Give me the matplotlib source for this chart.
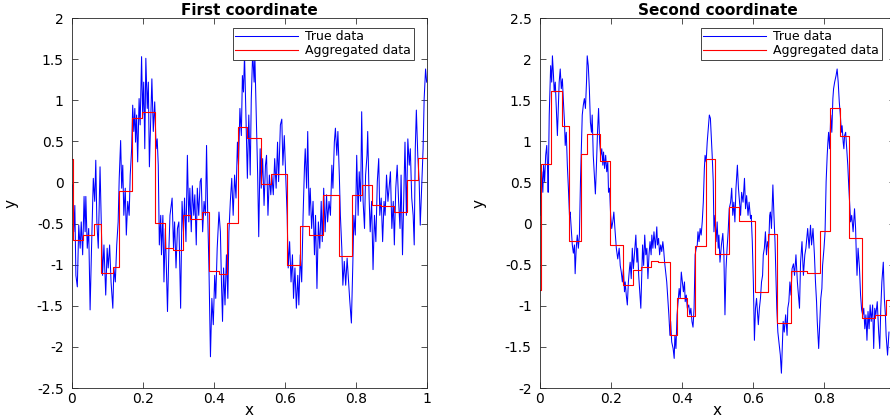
import matplotlib
matplotlib.use("Agg")
import matplotlib.pyplot as plt
from matplotlib.ticker import FuncFormatter

# start of each aggregation interval (shared by both coordinates)
agg_x = [0, 0.003, 0.032, 0.061, 0.083, 0.115, 0.133, 0.170, 0.196, 0.234,
         0.261, 0.285, 0.312, 0.332, 0.365, 0.385, 0.414, 0.438, 0.467, 0.493,
         0.532, 0.560, 0.606, 0.641, 0.668, 0.706, 0.753, 0.789, 0.818, 0.845,
         0.871, 0.908, 0.943, 0.975]

agg_first = [0.29, -0.70, -0.64, -0.51, -1.10, -1.03, -0.11, 0.78, 0.86, -0.49,
             -0.80, -0.82, -0.40, -0.44, -0.36, -1.08, -1.11, -0.49, 0.68, 0.54,
             -0.02, 0.10, -1.00, -0.53, -0.64, -0.15, -0.90, -0.15, -0.03, -0.27,
             -0.29, -0.36, 0.03, 0.30]

agg_second = [-0.81, 0.72, 1.61, 1.19, -0.21, 0.84, 1.09, 0.76, -0.26, -0.75,
              -0.56, -0.53, -0.45, -0.47, -1.35, -0.91, -1.12, -0.27, 0.78, -0.37,
              0.20, 0.03, -0.83, -0.13, -1.21, -0.58, -0.60, -0.09, 1.40, 1.07,
              -0.17, -1.15, -1.11, -0.93]

# true data, first coordinate
x1 = [0.002, 0.005, 0.008, 0.011, 0.015, 0.019, 0.023, 0.026, 0.030, 0.034,
      0.037, 0.039, 0.043, 0.047, 0.051, 0.055, 0.060, 0.064, 0.067, 0.070,
      0.074, 0.079, 0.083, 0.086, 0.090, 0.095, 0.099, 0.102, 0.106, 0.110,
      0.115, 0.118, 0.122, 0.126, 0.130, 0.133, 0.137, 0.140, 0.143, 0.146,
      0.150, 0.153, 0.157, 0.161, 0.164, 0.168, 0.171, 0.174, 0.177, 0.179,
      0.182, 0.185, 0.189, 0.192, 0.196, 0.199, 0.202, 0.205, 0.208, 0.212,
      0.215, 0.218, 0.222, 0.225, 0.229, 0.233, 0.237, 0.240, 0.243, 0.246,
      0.250, 0.252, 0.256, 0.259, 0.263, 0.269, 0.273, 0.276, 0.282, 0.286,
      0.289, 0.293, 0.297, 0.301, 0.306, 0.310, 0.314, 0.317, 0.321, 0.325,
      0.329, 0.332, 0.336, 0.339, 0.343, 0.346, 0.350, 0.353, 0.357, 0.361,
      0.364, 0.368, 0.372, 0.376, 0.379, 0.382, 0.386, 0.390, 0.394, 0.398,
      0.402, 0.405, 0.409, 0.414, 0.418, 0.421, 0.424, 0.427, 0.431, 0.435,
      0.439, 0.442, 0.446, 0.450, 0.454, 0.458, 0.462, 0.466, 0.469, 0.473,
      0.477, 0.480, 0.483, 0.486, 0.490, 0.494, 0.498, 0.502, 0.505, 0.509,
      0.513, 0.515, 0.519, 0.523, 0.526, 0.530, 0.533, 0.537, 0.541, 0.545,
      0.548, 0.552, 0.556, 0.560, 0.563, 0.567, 0.571, 0.575, 0.579, 0.582,
      0.587, 0.591, 0.594, 0.598, 0.602, 0.606, 0.609, 0.613, 0.617, 0.621,
      0.624, 0.628, 0.632, 0.636, 0.639, 0.643, 0.647, 0.651, 0.655, 0.657,
      0.661, 0.664, 0.668, 0.671, 0.675, 0.679, 0.683, 0.686, 0.690, 0.694,
      0.698, 0.702, 0.705, 0.709, 0.713, 0.717, 0.720, 0.724, 0.728, 0.732,
      0.735, 0.739, 0.742, 0.746, 0.749, 0.753, 0.756, 0.760, 0.763, 0.767,
      0.771, 0.775, 0.779, 0.782, 0.787, 0.791, 0.794, 0.798, 0.802, 0.806,
      0.809, 0.813, 0.816, 0.820, 0.824, 0.827, 0.831, 0.833, 0.837, 0.840,
      0.844, 0.848, 0.852, 0.856, 0.860, 0.864, 0.867, 0.871, 0.875, 0.879,
      0.882, 0.886, 0.890, 0.893, 0.897, 0.901, 0.905, 0.908, 0.912, 0.916,
      0.920, 0.924, 0.927, 0.931, 0.935, 0.938, 0.942, 0.946, 0.950, 0.953,
      0.957, 0.961, 0.964, 0.967, 0.970, 0.974, 0.978, 0.981, 0.985, 0.989,
      0.992, 0.996, 0.999]
y1 = [-0.03, -0.60, -0.28, -1.13, -1.27, -0.52, -0.80, -0.48, -0.88, -0.17,
      -0.60, -0.17, -0.80, -0.56, -1.55, -0.80, 0.05, -0.23, 0.27, -0.48,
      -0.80, 0.19, -0.60, -1.13, -0.76, -1.37, -0.80, -1.04, -0.76, -1.21,
      -1.53, -1.04, -1.21, -0.76, -0.48, 0.05, 0.51, -0.07, 0.21, -0.40,
      -0.07, -0.64, -0.23, -0.40, 0.09, 0.41, 0.94, 0.62, 0.90, 0.49,
      0.82, 0.25, 1.02, 0.70, 1.53, 0.82, 1.22, 0.41, 1.51, 0.90,
      1.22, 0.19, 0.82, 1.26, 0.62, 0.98, 0.41, 0.53, 0.21, -0.76,
      -0.40, -0.88, -0.40, -1.21, -0.56, -1.57, -0.80, -0.40, -0.19, -0.80,
      -0.48, -1.04, -0.56, -0.48, -1.53, -0.23, -0.60, -0.19, -0.72, 0.33,
      -0.48, -0.07, -0.60, -0.04, -0.40, -0.15, -0.76, -0.07, -0.40, 0.01,
      0.05, -0.60, -0.23, -0.40, 0.45, -0.32, -1.09, -2.12, -1.41, -1.73,
      -1.13, -1.41, -0.80, -0.36, -0.60, -1.21, -1.69, -1.04, -1.49, -0.88,
      -1.41, -0.60, -0.23, 0.05, -0.40, 0.09, -0.19, 0.49, 0.21, 0.90,
      0.57, 1.30, 1.10, 1.55, 0.82, 0.05, 0.82, 0.09, 1.02, 1.59,
      1.22, 1.55, 0.82, 0.09, -0.66, 0.41, -0.07, 0.29, -0.28, 0.21,
      0.33, -0.40, 0.09, -0.15, 0.09, -0.15, 0.29, -0.07, 0.49, 0.01,
      0.70, 0.77, 0.21, 0.57, 0.09, -0.40, -1.04, -0.72, -1.21, -0.88,
      -1.41, -1.04, -1.53, -1.13, -1.49, -0.88, -1.21, -0.40, 0.21, 0.41,
      -0.07, 0.62, -0.40, -0.07, -0.56, -0.23, -0.88, -0.40, -1.29, -0.48,
      -0.80, -0.23, -0.72, -0.07, -0.60, -0.15, -0.48, -0.23, -0.40, 0.21,
      -0.07, 0.49, 0.66, 0.33, 0.62, 0.09, -0.40, -0.80, -1.25, -0.96,
      -1.25, -0.92, -1.21, -1.41, -1.71, -1.00, -0.40, -0.64, 0.33, -0.40,
      0.13, -0.23, 0.86, -0.23, -0.56, 0.09, 0.33, 0.62, -0.19, -0.60,
      -0.23, -1.06, -0.40, -0.72, 0.01, 0.29, -0.40, -0.19, -0.72, -0.23,
      -0.40, 0.09, -0.23, -0.07, 0.13, -0.56, -0.23, -0.76, -0.07, 0.21,
      -0.23, -0.56, 0.09, -0.88, -0.07, 0.49, -0.40, 0.53, 0.21, 0.41,
      -0.19, -0.40, -0.76, 0.41, 0.88, 0.33, 0.01, -0.52, -0.07, 0.41,
      1.02, 1.38, 1.22]

# true data, second coordinate
x2 = [0.000, 0.002, 0.005, 0.008, 0.010, 0.013, 0.016, 0.019, 0.022, 0.023,
      0.026, 0.030, 0.033, 0.035, 0.038, 0.040, 0.043, 0.046, 0.049, 0.052,
      0.054, 0.057, 0.060, 0.063, 0.066, 0.069, 0.071, 0.074, 0.077, 0.080,
      0.083, 0.085, 0.088, 0.091, 0.094, 0.097, 0.099, 0.102, 0.105, 0.108,
      0.111, 0.114, 0.116, 0.119, 0.122, 0.125, 0.128, 0.131, 0.133, 0.136,
      0.139, 0.142, 0.145, 0.147, 0.150, 0.153, 0.156, 0.159, 0.162, 0.165,
      0.168, 0.171, 0.174, 0.177, 0.179, 0.182, 0.185, 0.188, 0.191, 0.193,
      0.196, 0.199, 0.202, 0.205, 0.208, 0.211, 0.215, 0.219, 0.223, 0.226,
      0.229, 0.232, 0.235, 0.238, 0.240, 0.243, 0.246, 0.249, 0.252, 0.254,
      0.257, 0.260, 0.263, 0.266, 0.270, 0.273, 0.275, 0.278, 0.281, 0.284,
      0.287, 0.289, 0.292, 0.295, 0.298, 0.301, 0.304, 0.307, 0.310, 0.313,
      0.315, 0.318, 0.321, 0.325, 0.329, 0.331, 0.334, 0.337, 0.340, 0.343,
      0.346, 0.348, 0.351, 0.355, 0.357, 0.360, 0.363, 0.366, 0.368, 0.371,
      0.375, 0.378, 0.380, 0.383, 0.386, 0.389, 0.392, 0.395, 0.398, 0.401,
      0.404, 0.407, 0.409, 0.412, 0.415, 0.419, 0.422, 0.425, 0.428, 0.431,
      0.434, 0.437, 0.440, 0.443, 0.445, 0.448, 0.451, 0.454, 0.457, 0.460,
      0.463, 0.465, 0.468, 0.471, 0.474, 0.477, 0.480, 0.482, 0.485, 0.488,
      0.490, 0.493, 0.496, 0.499, 0.502, 0.504, 0.507, 0.511, 0.515, 0.518,
      0.521, 0.524, 0.527, 0.530, 0.533, 0.537, 0.540, 0.543, 0.546, 0.549,
      0.552, 0.556, 0.559, 0.562, 0.565, 0.568, 0.572, 0.576, 0.579, 0.582,
      0.586, 0.589, 0.593, 0.595, 0.598, 0.601, 0.604, 0.607, 0.610, 0.613,
      0.615, 0.618, 0.621, 0.624, 0.627, 0.629, 0.632, 0.635, 0.638, 0.641,
      0.644, 0.647, 0.649, 0.652, 0.656, 0.659, 0.662, 0.665, 0.667, 0.670,
      0.673, 0.677, 0.680, 0.683, 0.685, 0.688, 0.692, 0.696, 0.698, 0.701,
      0.704, 0.707, 0.710, 0.714, 0.717, 0.721, 0.725, 0.731, 0.734, 0.738,
      0.742, 0.746, 0.749, 0.754, 0.758, 0.762, 0.765, 0.769, 0.773, 0.776,
      0.779, 0.781, 0.785, 0.788, 0.791, 0.794, 0.796, 0.800, 0.803, 0.806,
      0.809, 0.811, 0.813, 0.816, 0.819, 0.822, 0.825, 0.827, 0.830, 0.834,
      0.837, 0.840, 0.843, 0.846, 0.849, 0.851, 0.854, 0.856, 0.858, 0.861,
      0.864, 0.867, 0.870, 0.873, 0.875, 0.878, 0.882, 0.886, 0.889, 0.891,
      0.893, 0.896, 0.900, 0.903, 0.906, 0.909, 0.912, 0.915, 0.918, 0.921,
      0.924, 0.927, 0.930, 0.933, 0.937, 0.940, 0.943, 0.946, 0.950, 0.954,
      0.957, 0.960, 0.963, 0.967, 0.970, 0.973, 0.975, 0.979, 0.983]
y2 = [0.10, 0.43, 0.63, 0.38, 0.71, 0.51, 0.83, 0.95, 0.59, 0.38,
      1.32, 1.92, 1.72, 2.04, 1.80, 1.60, 1.72, 1.40, 1.07, 1.48,
      1.72, 1.88, 1.64, 1.76, 1.48, 1.23, 0.95, 1.11, 0.71, 0.43,
      0.10, 0.14, -0.06, -0.26, -0.36, -0.26, -0.61, -0.30, -0.14, -0.30,
      -0.14, 0.51, 0.83, 1.32, 1.44, 1.52, 1.40, 1.72, 2.04, 1.92,
      1.64, 1.23, 1.11, 1.32, 0.83, 0.59, 0.36, 0.71, 1.11, 1.40,
      0.99, 0.83, 0.91, 0.71, 0.87, 0.67, 0.83, 0.63, 0.75, 0.38,
      0.43, 0.10, -0.06, 0.02, 0.14, -0.06, -0.30, -0.43, -0.30, -0.51,
      -0.59, -0.71, -0.55, -0.83, -0.71, -0.87, -0.99, -0.71, -0.55, -0.47,
      -0.67, -0.30, -0.55, -0.38, -0.14, -0.47, -0.30, -0.63, -0.83, -1.03,
      -0.55, -0.26, -0.51, -0.14, -0.38, -0.30, -0.67, -0.38, -0.22, -0.38,
      -0.14, -0.30, -0.10, -0.30, -0.04, -0.26, -0.18, -0.38, -0.26, -0.34,
      -0.22, -0.30, -0.47, -0.63, -0.71, -0.91, -1.11, -1.36, -1.19, -1.44,
      -1.52, -1.64, -1.36, -1.52, -1.11, -0.95, -0.79, -0.91, -0.59, -0.71,
      -0.83, -0.71, -0.95, -0.87, -1.03, -0.99, -1.11, -1.03, -1.19, -1.26,
      -1.03, -0.38, -0.30, -0.26, -0.10, -0.22, -0.06, -0.14, 0.02, 0.26,
      0.67, 0.83, 0.75, 0.99, 1.15, 1.32, 1.28, 1.11, 0.83, 0.51,
      -0.10, 0.10, -0.22, 0.02, -0.30, -0.14, -0.47, -0.26, -0.12, -0.38,
      -1.11, -0.55, -0.30, -0.10, 0.18, 0.26, 0.43, 0.10, 0.26, 0.02,
      0.43, 0.71, 0.43, 0.26, 0.10, 0.38, 0.26, 0.55, 0.18, 0.34,
      0.10, 0.26, 0.06, 0.10, -0.22, -0.71, -1.42, -1.03, -0.91, -1.11,
      -1.23, -1.03, -0.91, -0.71, -0.63, -0.38, -0.30, -0.10, -0.38, -0.22,
      -0.30, 0.10, 0.14, -0.06, 0.47, 0.10, -0.22, -0.71, -1.03, -1.32,
      -1.44, -1.60, -1.82, -1.44, -1.19, -1.32, -1.11, -1.36, -1.03, -0.95,
      -0.71, -0.87, -0.55, -0.49, -0.63, -0.38, -0.71, -1.03, -0.47, -0.22,
      -0.63, -0.38, -0.30, -0.06, -0.30, -0.02, -0.26, -0.06, -0.38, -0.71,
      -0.95, -1.19, -1.52, -1.23, -0.91, -0.79, -0.51, -0.30, -0.10, 0.51,
      0.83, 0.99, 1.11, 0.91, 1.32, 1.11, 1.52, 1.64, 1.72, 1.80,
      1.88, 1.72, 1.48, 1.32, 1.11, 1.19, 0.99, 0.91, 1.07, 1.11,
      0.91, 0.71, 0.43, 0.18, 0.02, 0.10, -0.10, 0.18, -0.06, -0.38,
      -0.63, -0.30, -0.55, -0.87, -1.05, -1.11, -1.03, -1.28, -1.11, -1.42,
      -1.07, -1.28, -0.99, -1.19, -0.99, -1.52, -1.03, -1.11, -0.95, -1.32,
      -1.52, -1.03, -0.71, -0.47, -0.91, -1.11, -1.36, -1.60, -1.32]

xtick_first = [0, 0.2, 0.4, 0.6, 0.8, 1]
xtick_second = [0, 0.2, 0.4, 0.6, 0.8]   # 1 falls outside the picture

panels = [
    ("First coordinate", x1, y1, agg_first, (-2.5, 2), xtick_first),
    ("Second coordinate", x2, y2, agg_second, (-2, 2.5), xtick_second),
]

plt.rcParams['font.family'] = 'DejaVu Sans'

fig = plt.figure(figsize=(8.9, 4.19), dpi=100)
# the right panel runs a little past the right edge of the picture, like the original
axes = [fig.add_axes([72 / 890, 31 / 419, 355 / 890, 370 / 419]),
        fig.add_axes([540 / 890, 31 / 419, 355 / 890, 370 / 419])]

fmt = FuncFormatter(lambda v, p: '%g' % v)

for ax, (title, xs, ys, agg, ylim, xt) in zip(axes, panels):
    ax.plot(xs, ys, color='blue', lw=0.75, label='True data')
    ax.step(agg_x + [1.0], agg + [agg[-1]], where='post', color='red', lw=0.8,
            label='Aggregated data')
    ax.set_xlim(0, 1)
    ax.set_ylim(*ylim)
    ax.set_xticks(xt)
    ax.set_yticks([v / 2 for v in range(int(ylim[0] * 2), int(ylim[1] * 2) + 1)])
    ax.xaxis.set_major_formatter(fmt)
    ax.yaxis.set_major_formatter(fmt)
    ax.tick_params(direction='in', length=4, width=0.6, top=True, right=True,
                   labelsize=10, color='#333333')
    ax.tick_params(axis='y', pad=6)
    ax.tick_params(axis='x', pad=3)
    for s in ax.spines.values():
        s.set_linewidth(0.6)
        s.set_color('#262626')
    ax.set_title(title, fontsize=11, fontweight='bold', pad=2)
    ax.set_xlabel('x', fontsize=11)
    ax.xaxis.set_label_coords(0.5, -0.04)
    ax.set_ylabel('y', fontsize=11)
    ax.yaxis.set_label_coords(-0.15, 0.5)
    leg = ax.legend(loc='upper right', bbox_to_anchor=(0.963, 0.973),
                    borderaxespad=0, fontsize=9, handlelength=5,
                    handletextpad=0.6, labelspacing=0.05, borderpad=0.2,
                    fancybox=False, framealpha=1, edgecolor='#262626')
    leg.get_frame().set_linewidth(0.6)

fig.savefig('out.png', dpi=100)
